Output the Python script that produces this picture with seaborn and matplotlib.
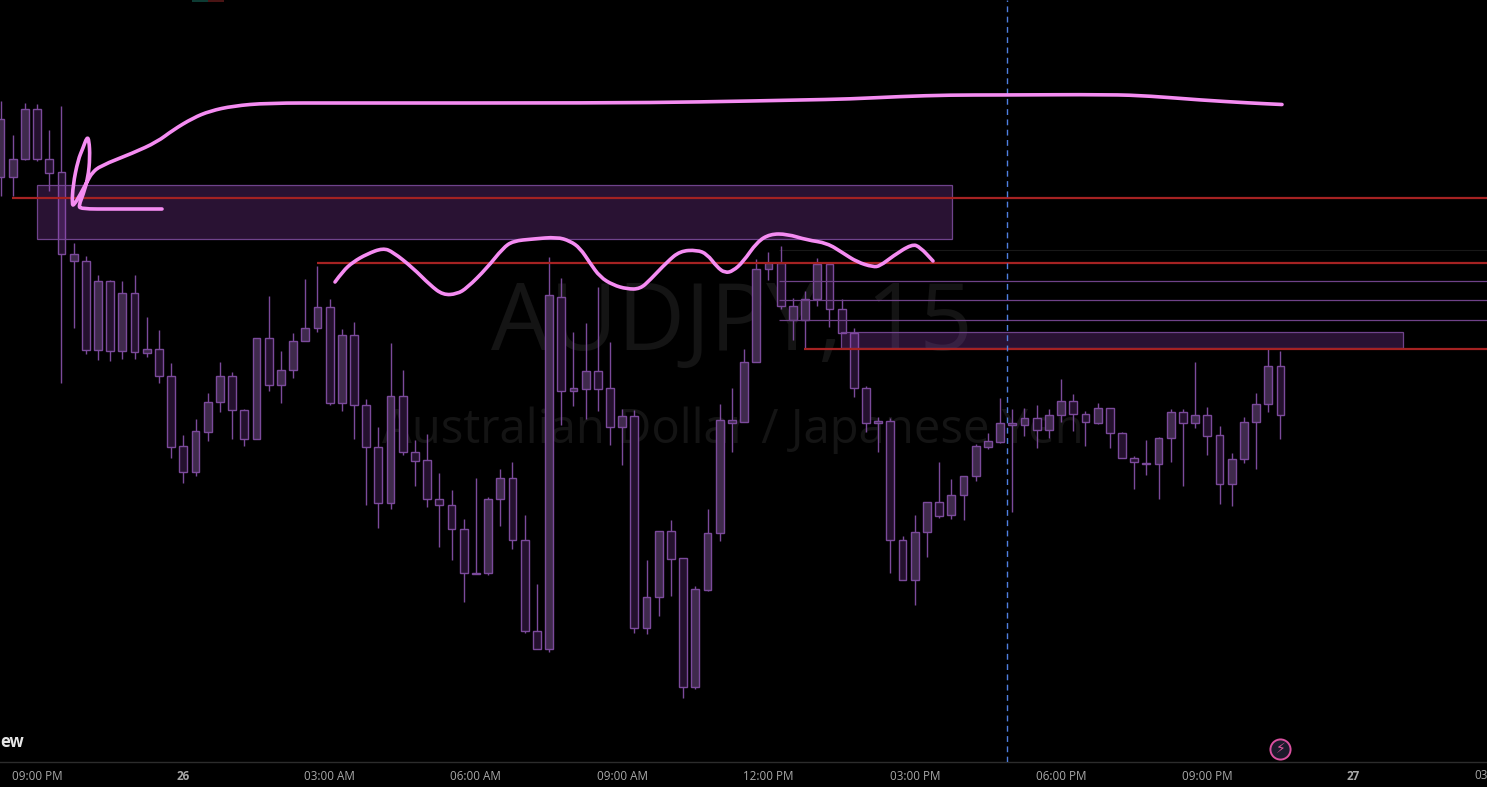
import numpy as np
import pandas as pd
import matplotlib
matplotlib.use("Agg")
import matplotlib.pyplot as plt
from matplotlib.patches import Rectangle, PathPatch
from matplotlib.path import Path
import seaborn as sns

# Candles, in chart rows (the price scale is hidden in the reference; larger = lower price)
body_top = [119,159,109,109,159,172,254,261,281,281,293,293,349,349,376,446,431,402,376,376,410,338,338,370,341,328,307,307,335,335,405,447,396,396,452,460,499,505,529,573,499,478,478,540,631,295,297,388,371,371,388,416,416,597,531,531,558,589,533,420,420,362,269,263,263,306,299,264,264,309,333,388,421,421,540,532,502,502,495,476,446,441,423,423,418,418,415,401,401,414,408,408,433,458,463,438,412,412,415,415,435,459,422,404,366,366]
body_bot = [177,177,159,159,173,254,261,350,350,351,351,352,353,376,447,472,472,432,402,410,439,439,385,385,370,341,328,403,403,405,447,503,503,452,461,499,505,529,573,574,573,499,540,631,649,649,391,391,389,389,427,427,628,628,597,559,687,687,590,533,423,422,362,269,306,320,320,299,309,333,388,423,423,540,580,580,532,516,515,495,476,447,442,425,425,430,430,415,414,422,423,433,458,462,464,464,438,423,423,436,484,484,459,422,404,415]
wick_high = [101,135,103,104,130,106,243,256,275,280,281,275,317,330,363,435,419,393,362,372,409,338,296,351,333,279,266,299,329,322,399,427,343,370,440,434,473,490,519,478,497,469,462,515,584,257,278,332,323,287,342,409,410,560,531,520,558,586,509,404,388,349,259,252,246,298,291,258,262,299,328,386,417,418,536,515,502,462,479,476,444,433,398,409,408,405,409,379,394,411,403,408,432,456,440,437,409,409,362,407,426,453,417,393,349,351]
wick_low = [196,196,160,161,191,383,328,354,360,361,359,359,357,383,458,483,476,441,412,439,446,439,391,403,378,341,332,405,411,439,505,528,509,455,486,507,547,560,602,574,575,526,549,633,649,652,425,406,419,411,445,465,633,634,616,596,698,689,591,541,452,422,362,280,309,340,349,306,327,333,397,432,452,573,580,605,557,518,519,520,481,449,443,512,436,448,438,422,431,446,424,448,458,489,475,499,462,486,428,455,504,506,463,469,412,439]
tone = "LLLDDDLDLDLDLDDDLLLDDLDLLLLDLDDDLDDDDDDLLLDDDLDLLDDLDLLDDLLLLLLLDLLLDDDDLDDLLDLLLLLLLDLLDDLDDDDLLDLDDLLLLD"

tick_bars = [3, 15, 27, 39, 51, 63, 75, 87, 99, 111]
tick_text = ["09:00 PM", "26", "03:00 AM", "06:00 AM", "09:00 AM", "12:00 PM", "03:00 PM", "06:00 PM", "09:00 PM", "27"]
tick_bold = ["26", "27"]

# Drawings (bar position, chart row)
px = lambda v: (np.asarray(v, float) - 0.5) / 12.19
zone_a = (37, 952, 185, 239)
zone_b = (841, 1403, 332, 347.5)
red_levels = [(12, 198), (317, 263), (804, 349)]
thin_levels = [(779, 280.5), (779, 299.5), (779, 319.5)]
faint_levels = [(779, 250)]
now_x = 1006.5

stroke_top_x = [162,115,80,79,83,88,90,89,87,83,78,73,72,74,80,88,92,100,133,157,173,193,210,233,267,340,600,700,800,850,900,950,1000,1110,1150,1200,1250,1282]
stroke_top_y = [209,209,209,205,195,178,157,140,137,148,160,185,205,205,195,180,173,166,153,142,130,118,111,106,103,103,103,102,100,99,96.5,95,95,94.5,96,100,103,104.5]
stroke_low_x = [335,343,353,367,383,393,413,430,443,457,467,487,503,513,533,557,570,580,590,600,613,627,640,650,667,680,697,707,717,725,733,743,757,770,787,807,827,843,857,873,880,893,912,920,933]
stroke_low_y = [282,271,262,254,248,252,268,285,295,294,288,268,248,241,239,237,241,248,263,277,285,289,289,280,262,251,250,254,267,273,271,262,242,234,234,240,243,253,262,267,266,256,244,247,261]

BG = "#000000"
EDGE = "#7b4a9b"
FILL = {"L": "#3f2a4c", "D": "#24112e"}
PINK = "#f58cf2"
RED = "#a52222"

sns.set_theme(style="dark", rc={"axes.facecolor": BG, "figure.facecolor": BG, "axes.grid": False})
plt.rcParams["font.family"] = ["Open Sans", "DejaVu Sans"]

fig = plt.figure(figsize=(14.87, 7.87), dpi=100)
ax = fig.add_axes([0, 25 / 787, 1, 762 / 787])

candles = pd.DataFrame({
    "bar": np.arange(len(body_top)),
    "top": body_top, "bot": body_bot, "high": wick_high, "low": wick_low,
    "tone": list(tone),
})
candles["size"] = candles["bot"] - candles["top"]

ax.vlines(candles["bar"], candles["high"], candles["low"], color=EDGE, lw=1.0, zorder=2)
for key, part in candles.groupby("tone"):
    sns.barplot(data=part, x="bar", y="size", bottom=part["top"].to_numpy(), native_scale=True,
                color=FILL[key], saturation=1, width=0.64, errorbar=None,
                edgecolor=EDGE, linewidth=1.0, zorder=3, ax=ax)

ax.set_xlim(px(0), px(1487))
ax.set_ylim(762, 0)
ax.set_xlabel("")
ax.set_ylabel("")
ax.set_yticks([])
ax.set_xticks(tick_bars)
ax.set_xticklabels(tick_text, fontsize=8.4, color="#a8a8a8")
for lab in ax.get_xticklabels():
    if lab.get_text() in tick_bold:
        lab.set_fontweight("bold")
ax.tick_params(axis="x", length=0, pad=6)
for side in ("top", "left", "right"):
    ax.spines[side].set_visible(False)
ax.spines["bottom"].set_color("#2c2c2c")
ax.spines["bottom"].set_linewidth(1)

ax.text(px(1474), 775.5, "03", ha="left", va="center", fontsize=8.4, color="#a8a8a8", clip_on=False)

# Watermark
ax.text(px(732), 325, "AUDJPY, 15", ha="center", va="center", fontsize=67, color="#141414", zorder=0,
        family="Open Sans")
ax.text(px(733), 430, "Australian Dollar / Japanese Yen", ha="center", va="center", fontsize=34, color="#141414",
        zorder=0, family="Open Sans")

# Zones and levels
for x0, x1, y0, y1 in (zone_a, zone_b):
    ax.add_patch(Rectangle((px(x0), y0), px(x1) - px(x0), y1 - y0, facecolor=(0.6, 0.27, 0.75, 0.27),
                           edgecolor=(0.48, 0.29, 0.6, 0.9), lw=0.9, zorder=4))
for x0, y in faint_levels:
    ax.hlines(y, px(x0), px(1487), color="#181818", lw=0.8, zorder=1)
for x0, y in thin_levels:
    ax.hlines(y, px(x0), px(1487), color="#6f4288", lw=0.9, zorder=4)
for x0, y in red_levels:
    ax.hlines(y, px(x0), px(1487), color=RED, lw=1.6, zorder=5)
ax.axvline(px(now_x), color="#4f7fe0", lw=1.0, ls=(0, (4.2, 3.2)), zorder=5)


def smooth(xs, ys):
    pts = np.column_stack([px(xs), ys])
    verts = [pts[0]]
    codes = [Path.MOVETO]
    for a, b in zip(pts[1:-1], pts[2:]):
        verts += [a, (a + b) / 2]
        codes += [Path.CURVE3, Path.CURVE3]
    verts.append(pts[-1])
    codes.append(Path.LINETO)
    return Path(verts, codes)


for xs, ys in ((stroke_top_x, stroke_top_y), (stroke_low_x, stroke_low_y)):
    ax.add_patch(PathPatch(smooth(xs, ys), facecolor="none", edgecolor=PINK, lw=2.6,
                           capstyle="round", joinstyle="round", zorder=6))

# TradingView logo fragment and event marker
ax.text(0, 742, "ew", ha="left", va="center", fontsize=12, fontweight="bold", color="#e6e6e6", zorder=7)
ax.plot([px(1280)], [749], marker="o", ms=14.5, mfc="#1c1a2c", mec="#d9509f", mew=1.4, zorder=7, clip_on=False)
ax.text(px(1280.5), 749, "\u26a1", ha="center", va="center", fontsize=10, color="#e0569f", zorder=8,
        family="DejaVu Sans")

# Sliver of the cropped toolbar at the top edge
ax.add_patch(Rectangle((px(192), 0), px(208) - px(192), 1.6, facecolor="#0d3b33", edgecolor="none", zorder=7))
ax.add_patch(Rectangle((px(208), 0), px(224) - px(208), 1.6, facecolor="#4a1414", edgecolor="none", zorder=7))

fig.savefig("out.png", dpi=100, facecolor=BG)
